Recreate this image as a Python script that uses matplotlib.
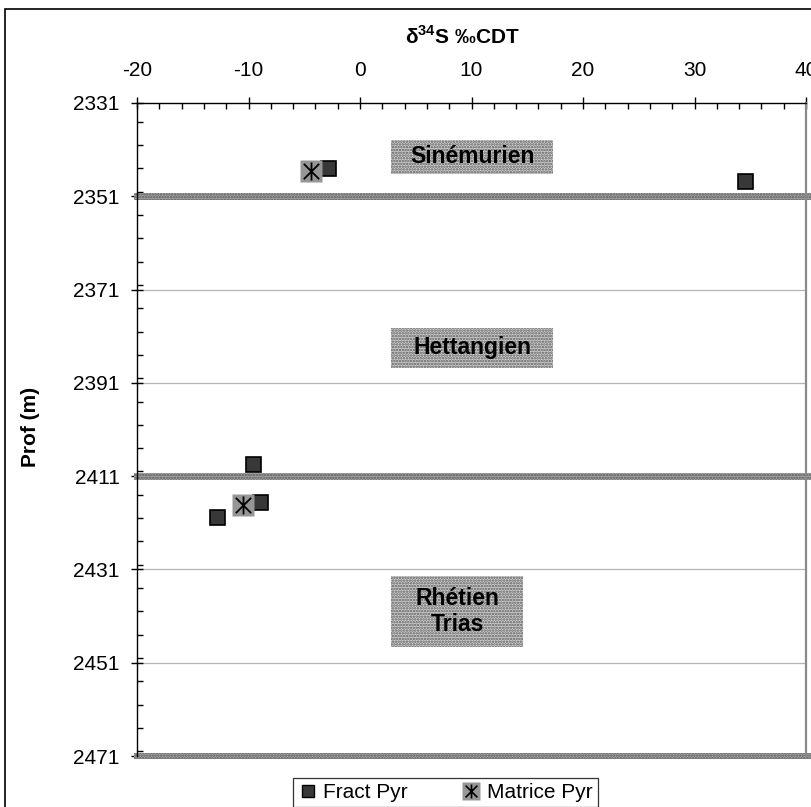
import matplotlib
matplotlib.use('Agg')
import matplotlib.pyplot as plt
import matplotlib.patches as mpatches
from matplotlib.lines import Line2D
from matplotlib.path import Path
from matplotlib.legend_handler import HandlerTuple
from matplotlib.ticker import MultipleLocator

plt.rcParams.update({
    "font.family": "Liberation Sans",
    "mathtext.fontset": "custom",
    "mathtext.rm": "Liberation Sans:bold",
    "mathtext.bf": "Liberation Sans:bold",
    "axes.unicode_minus": False,
    "hatch.linewidth": 1.2,
})

# ── data ─────────────────────────────────────────────────────────────────────
fract_d34s  = [-2.9, 34.5, -9.6, -9.0, -12.85]
fract_depth = [2345.0, 2347.7, 2408.5, 2416.6, 2419.7]

matrice_d34s  = [-4.4, -10.5]
matrice_depth = [2345.5, 2417.2]

# stage boundaries (m)
boundaries = [2351, 2411, 2471]

# stage labels: text, x-range (permil), depth-range (m)
stages = [
    ("Sinémurien",     (2.8, 17.3), (2338.9, 2346.2)),
    ("Hettangien",     (2.8, 17.3), (2379.2, 2387.8)),
    ("Rhétien\nTrias", (2.8, 14.6), (2432.4, 2447.6)),
]

x_min, x_max = -20, 40
d_min, d_max = 2331, 2471

# ── figure ───────────────────────────────────────────────────────────────────
W, H = 811, 807
fig = plt.figure(figsize=(W / 100, H / 100), dpi=100)
ax = fig.add_axes([137 / W, 1 - 756 / H, (806 - 137) / W, (756 - 103) / H])

# outer chart frame (cropped at right and bottom)
fig.patches.append(mpatches.Rectangle((5 / W, -0.2), 2.0, 1.2 - 9 / H,
                                      transform=fig.transFigure, fill=False,
                                      ec="black", lw=1.2))

ax.set_xlim(x_min, x_max)
ax.set_ylim(d_max, d_min)

ax.xaxis.set_major_locator(MultipleLocator(10))
ax.xaxis.set_minor_locator(MultipleLocator(2))
ax.set_yticks(range(d_min, d_max + 1, 20))
ax.yaxis.set_minor_locator(MultipleLocator(5))
ax.xaxis.tick_top()
ax.tick_params(axis="both", which="major", direction="inout", length=9,
               width=1, labelsize=15, color="black")
ax.tick_params(axis="both", which="minor", direction="in", length=4, width=1)
ax.tick_params(axis="x", which="major", pad=12)
ax.tick_params(axis="y", which="major", pad=8)

for s in ["left", "top"]:
    ax.spines[s].set_color("black")
    ax.spines[s].set_linewidth(1.0)
ax.spines["bottom"].set_visible(False)
ax.spines["right"].set_color("#8a8a8a")
ax.spines["right"].set_linewidth(1.6)

for d in range(d_min + 20, d_max, 20):
    ax.axhline(d, color="#b4b4b4", lw=0.9, zorder=1)

for b in boundaries:
    ax.add_patch(mpatches.Rectangle((x_min - 0.3, b - 0.75), x_max - x_min + 1, 1.5,
                                    facecolor="#a6a6a6", edgecolor="#5a5a5a",
                                    hatch="......", lw=0, zorder=2, clip_on=False))

for text, (x0, x1), (d0, d1) in stages:
    ax.add_patch(mpatches.Rectangle((x0, d0), x1 - x0, d1 - d0,
                                    facecolor="#cfcfcf", edgecolor="#5c5c5c",
                                    hatch="......", lw=0, zorder=2))
    ax.text((x0 + x1) / 2, (d0 + d1) / 2, text, ha="center", va="center",
            fontsize=16.5, fontweight="bold", linespacing=1.15, zorder=3)

star = Path([(0, -1), (0, 1), (-0.85, -0.85), (0.85, 0.85), (-0.85, 0.85), (0.85, -0.85)],
            [Path.MOVETO, Path.LINETO] * 3)

ax.plot(fract_d34s, fract_depth, ls="none", marker="s", ms=10.8,
        mfc="#383838", mec="black", mew=1.2, zorder=4)
ax.plot(matrice_d34s, matrice_depth, ls="none", marker="s", ms=15.5,
        mfc="#969696", mec="none", zorder=5)
ax.plot(matrice_d34s, matrice_depth, ls="none", marker=star, ms=13,
        mfc="none", mec="black", mew=1.3, zorder=6)

fig.text(462 / W, 1 - 37 / H, r"δ$^{34}$S ‰CDT", ha="center", va="center",
         fontsize=15, fontweight="bold")
fig.text(30 / W, 1 - 427 / H, "Prof (m)", ha="center", va="center",
         rotation=90, fontsize=15, fontweight="bold")

h_fract = Line2D([], [], ls="none", marker="s", ms=8, mfc="#383838", mec="black", mew=1)
h_msq = Line2D([], [], ls="none", marker="s", ms=12.5, mfc="#969696", mec="none")
h_mst = Line2D([], [], ls="none", marker=star, ms=10, mfc="none", mec="black", mew=1.2)
leg = fig.legend(handles=[h_fract, (h_msq, h_mst)], labels=["Fract Pyr", "Matrice Pyr"],
                 handler_map={tuple: HandlerTuple(ndivide=1)},
                 loc="upper left", bbox_to_anchor=(293 / W, 1 - 778 / H),
                 ncol=2, fontsize=15, frameon=True, fancybox=False,
                 edgecolor="black", borderpad=0.25, handlelength=0.9,
                 handletextpad=0.3, columnspacing=2.6, borderaxespad=0)
leg.get_frame().set_linewidth(0.9)

fig.savefig("out.png", dpi=100)
